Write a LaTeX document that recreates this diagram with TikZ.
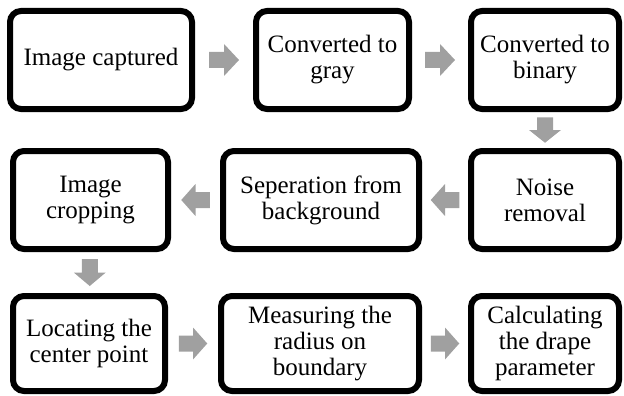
\documentclass[tikz,border=0pt]{standalone}
\usepackage{fontspec}
\setmainfont{Liberation Serif}
\usetikzlibrary{calc}
\definecolor{arrgray}{RGB}{160,160,160}
\tikzset{
  x=1pt,y=-1pt,
  stepbox/.style={draw=black, line width=6pt, rounded corners=11pt, fill=white,
    align=center, inner sep=2pt, font=\fontsize{25}{26}\selectfont},
  blockarr/.pic={\path[fill=arrgray] (-15,-8) -- (0,-8) -- (0,-16) -- (15,0) -- (0,16) -- (0,8) -- (-15,8) -- cycle;}
}
\begin{document}
\begin{tikzpicture}
\useasboundingbox (0,0) rectangle (624,396);
% row 1
\node[stepbox, minimum width=182pt, minimum height=98pt] (b1) at (101,60) {Image captured};
\node[stepbox, minimum width=153pt, minimum height=98pt] (b2) at (332.5,60) {Converted to\\gray};
\node[stepbox, minimum width=148pt, minimum height=98pt] (b3) at (545,60) {Converted to\\binary};
% row 2
\node[stepbox, minimum width=155pt, minimum height=98pt] (b6) at (90.5,200) {Image\\cropping};
\node[stepbox, minimum width=196pt, minimum height=98pt] (b5) at (321,200) {Seperation from\\background};
\node[stepbox, minimum width=148pt, minimum height=98pt] (b4) at (545,200) {Noise\\removal};
% row 3
\node[stepbox, minimum width=152pt, minimum height=95pt] (b7) at (89,343.5) {Locating the\\center point};
\node[stepbox, minimum width=198pt, minimum height=95pt] (b8) at (320,343.5) {Measuring the\\radius on\\boundary};
\node[stepbox, minimum width=148pt, minimum height=95pt] (b9) at (545,343.5) {Calculating\\the drape\\parameter};
% arrows
\pic at ($(b1.east)!0.5!(b2.west)$) {blockarr};
\pic at ($(b2.east)!0.5!(b3.west)$) {blockarr};
\pic[rotate=-90, xscale=0.85] at ($(b3.south)!0.5!(b4.north)$) {blockarr};
\pic[rotate=180, xscale=0.95] at ($(b4.west)!0.5!(b5.east)$) {blockarr};
\pic[rotate=180, xscale=0.95] at ($(b5.west)!0.5!(b6.east)$) {blockarr};
\pic[rotate=-90, xscale=0.9] at ($(b6.south)!0.5!(b7.north)$) {blockarr};
\pic[xscale=0.95] at ($(b7.east)!0.5!(b8.west)$) {blockarr};
\pic[xscale=0.95] at ($(b8.east)!0.5!(b9.west)$) {blockarr};
\end{tikzpicture}
\end{document}
